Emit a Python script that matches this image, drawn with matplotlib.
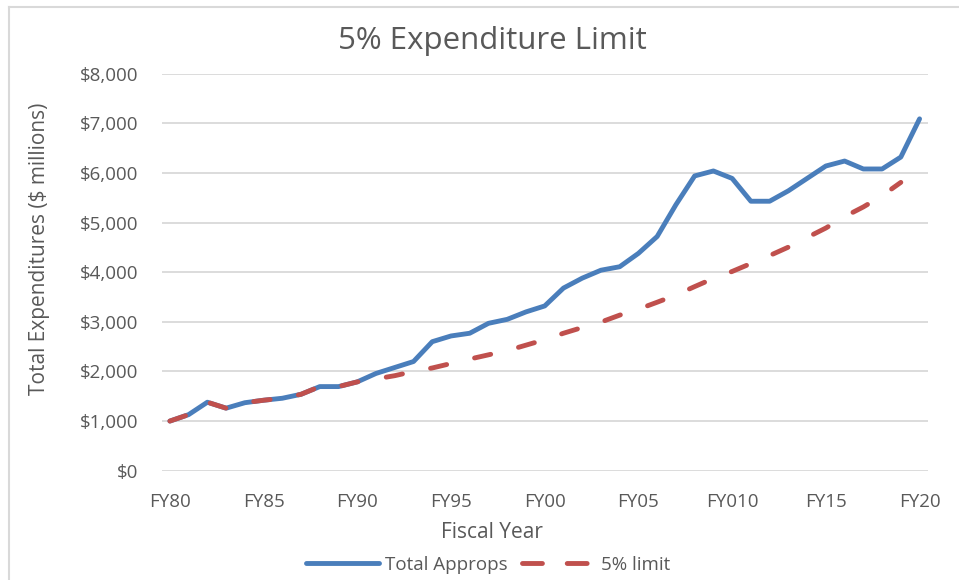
import numpy as np
import matplotlib
matplotlib.use("Agg")
import matplotlib.pyplot as plt
from matplotlib.lines import Line2D

plt.rcParams['font.family'] = ['Open Sans', 'DejaVu Sans']

# fiscal years 1980..2020
years = list(range(1980, 2021))
total_approps = [1000, 1130, 1380, 1260, 1370, 1420, 1460, 1540, 1695, 1695,
                 1790, 1960, 2080, 2200, 2600, 2715, 2770, 2970, 3050, 3200,
                 3320, 3680, 3880, 4040, 4110, 4380, 4720, 5360, 5940, 6040,
                 5890, 5430, 5430, 5640, 5890, 6140, 6240, 6080, 6080, 6320,
                 7090]
limit_years = list(range(1980, 2020))
limit_5pct = [1000, 1130, 1380, 1260, 1370, 1420, 1460, 1540, 1695, 1695,
              1790, 1850, 1915, 2000, 2070, 2160, 2250, 2335, 2420, 2530,
              2640, 2770, 2885, 2995, 3135, 3255, 3395, 3540, 3710, 3875,
              4015, 4175, 4335, 4505, 4700, 4890, 5120, 5315, 5540, 5810]
tick_years = [1980, 1985, 1990, 1995, 2000, 2005, 2010, 2015, 2020]
tick_labels = ["FY80", "FY85", "FY90", "FY95", "FY00", "FY05", "FY010", "FY15", "FY20"]

grey_txt = "#595959"
blue = "#4A7EBB"
red = "#C0504D"

fig = plt.figure(figsize=(9.59, 5.8), dpi=100)
ax = fig.add_axes([162/959, 1 - 470.7/580, (928 - 162)/959, (470.7 - 73.7)/580])

ax.plot(years, total_approps, color=blue, lw=3.5, solid_capstyle='round',
        solid_joinstyle='round', zorder=3)
ax.plot(limit_years, limit_5pct, color=red, lw=3.5, dashes=(3.4, 5.9),
        dash_capstyle='round', zorder=4)

ax.set_xlim(1979.58, 2020.45)
ax.set_ylim(0, 8000)
ax.set_yticks(range(0, 8001, 1000))
ax.set_yticklabels([f"${v:,}" for v in range(0, 8001, 1000)])
ax.set_xticks(tick_years)
ax.set_xticklabels(tick_labels)
ax.grid(axis='y', color="#D9D9D9", lw=1.3)
ax.set_axisbelow(True)
for s in ax.spines.values():
    s.set_visible(False)
ax.tick_params(axis='both', length=0, labelsize=13.5, labelcolor=grey_txt)
ax.tick_params(axis='y', pad=17)
ax.tick_params(axis='x', pad=16)

fig.text(492/959, 1 - 49/580, "5% Expenditure Limit", ha='center', va='baseline',
         fontsize=22.5, color=grey_txt)
fig.text(40/959, 1 - 249/580, "Total Expenditures ($ millions)", rotation=90,
         ha='center', va='center', fontsize=15, color=grey_txt)
fig.text(492/959, 1 - 538/580, "Fiscal Year", ha='center', va='baseline',
         fontsize=15, color=grey_txt)

handles = [Line2D([], [], color=blue, lw=3.5, solid_capstyle='round'),
           Line2D([], [], color=red, lw=3.5, dashes=(4.1, 5.1), dash_capstyle='round')]
fig.legend(handles, ["Total Approps", "5% limit"], ncol=2, frameon=False,
           loc='center', bbox_to_anchor=(488/959, 1 - 565/580), fontsize=13.5,
           labelcolor=grey_txt, handlelength=3.9, handletextpad=0.3,
           columnspacing=0.8, borderpad=0)

# partial chart border (top and left edges visible)
fig.add_artist(Line2D([9/959, 9/959], [0, 1 - 7/580], transform=fig.transFigure,
                      color="#D9D9D9", lw=1.5))
fig.add_artist(Line2D([9/959, 1], [1 - 7/580, 1 - 7/580], transform=fig.transFigure,
                      color="#D9D9D9", lw=1.5))

fig.savefig("out.png", dpi=100)
